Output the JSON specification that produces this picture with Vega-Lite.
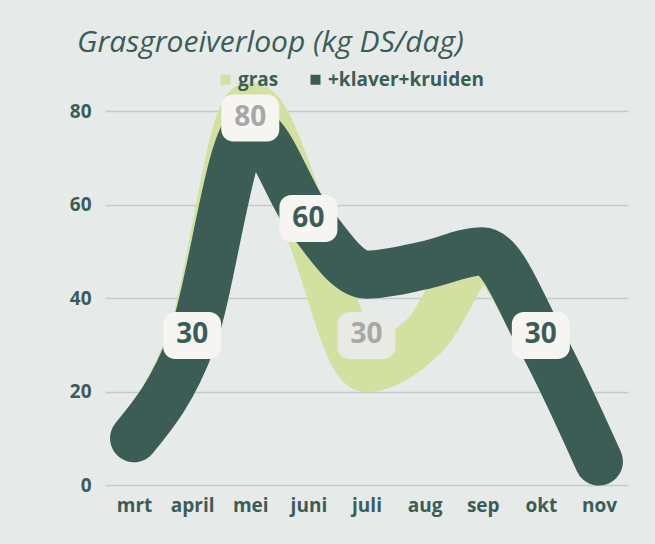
{
  "$schema": "https://vega.github.io/schema/vega-lite/v6.json",
  "autosize": {"type": "none"},
  "width": 523,
  "height": 374,
  "padding": {"left": 105, "top": 111, "right": 27, "bottom": 59},
  "background": "#e6ebe9",
  "config": {"view": {"stroke": null}},
  "title": {
    "text": "Grasgroeiverloop (kg DS/dag)",
    "anchor": "start",
    "frame": "group",
    "dx": -28,
    "offset": 12,
    "font": "Open Sans",
    "fontStyle": "italic",
    "fontWeight": "normal",
    "fontSize": 30,
    "color": "#3b5d56"
  },
  "datasets": {
    "lijnen": [
      {"maand": "mrt", "soort": "gras", "waarde": 10},
      {"maand": "april", "soort": "gras", "waarde": 32},
      {"maand": "mei", "soort": "gras", "waarde": 81},
      {"maand": "juni", "soort": "gras", "waarde": 55},
      {"maand": "juli", "soort": "gras", "waarde": 25},
      {"maand": "aug", "soort": "gras", "waarde": 32},
      {"maand": "sep", "soort": "gras", "waarde": 49},
      {"maand": "okt", "soort": "gras", "waarde": 31},
      {"maand": "nov", "soort": "gras", "waarde": 5},
      {"maand": "mrt", "soort": "+klaver+kruiden", "waarde": 10},
      {"maand": "april", "soort": "+klaver+kruiden", "waarde": 31},
      {"maand": "mei", "soort": "+klaver+kruiden", "waarde": 76},
      {"maand": "juni", "soort": "+klaver+kruiden", "waarde": 57},
      {"maand": "juli", "soort": "+klaver+kruiden", "waarde": 45},
      {"maand": "aug", "soort": "+klaver+kruiden", "waarde": 47},
      {"maand": "sep", "soort": "+klaver+kruiden", "waarde": 50},
      {"maand": "okt", "soort": "+klaver+kruiden", "waarde": 31},
      {"maand": "nov", "soort": "+klaver+kruiden", "waarde": 5}
    ],
    "labels": [
      {"maand": "april", "soort": "+klaver+kruiden", "pos": 32, "label": "30"},
      {"maand": "mei", "soort": "gras", "pos": 78.5, "label": "80"},
      {"maand": "juni", "soort": "+klaver+kruiden", "pos": 57, "label": "60"},
      {"maand": "juli", "soort": "gras", "pos": 32, "label": "30"},
      {"maand": "okt", "soort": "+klaver+kruiden", "pos": 32, "label": "30"}
    ]
  },
  "encoding": {
    "x": {
      "field": "maand",
      "type": "ordinal",
      "sort": ["mrt", "april", "mei", "juni", "juli", "aug", "sep", "okt", "nov"],
      "scale": {"type": "point", "padding": 0.5},
      "axis": {
        "title": null,
        "domain": false,
        "ticks": false,
        "grid": false,
        "labelAngle": 0,
        "labelPadding": 11,
        "labelFont": "Open Sans",
        "labelFontWeight": "bold",
        "labelFontSize": 19,
        "labelColor": "#3b5d56"
      }
    }
  },
  "layer": [
    {
      "data": {"name": "lijnen"},
      "transform": [{"filter": "datum.soort === 'gras'"}],
      "mark": {"type": "line", "strokeWidth": 48, "strokeCap": "round", "strokeJoin": "round", "interpolate": "monotone"},
      "encoding": {
        "y": {
          "field": "waarde",
          "type": "quantitative",
          "scale": {"domain": [0, 80], "nice": false},
          "axis": {
            "title": null,
            "values": [0, 20, 40, 60, 80],
            "domain": false,
            "ticks": false,
            "grid": true,
            "gridColor": "#c4cbc9",
            "gridWidth": 1.5,
            "labelPadding": 14,
            "labelFont": "Open Sans",
            "labelFontWeight": "bold",
            "labelFontSize": 19,
            "labelColor": "#3b5d56"
          }
        },
        "color": {
          "field": "soort",
          "type": "nominal",
          "scale": {"domain": ["gras", "+klaver+kruiden"], "range": ["#d3e1a0", "#3b5d56"]},
          "legend": {
            "title": null,
            "orient": "none",
            "legendX": 111,
            "legendY": -41,
            "direction": "horizontal",
            "padding": 0,
            "symbolType": "square",
            "symbolSize": 4,
            "symbolStrokeWidth": 8,
            "labelFont": "Open Sans",
            "labelFontWeight": "bold",
            "labelFontSize": 19,
            "labelColor": "#3b5d56",
            "labelOffset": 3,
            "columnPadding": 19
          }
        }
      }
    },
    {
      "data": {"name": "lijnen"},
      "transform": [{"filter": "datum.soort !== 'gras'"}],
      "mark": {"type": "line", "strokeWidth": 48, "strokeCap": "round", "strokeJoin": "round", "interpolate": "monotone"},
      "encoding": {
        "y": {"field": "waarde", "type": "quantitative"},
        "color": {"field": "soort", "type": "nominal"}
      }
    },
    {
      "data": {"name": "labels"},
      "mark": {"type": "rect", "width": 58, "height": 47, "cornerRadius": 12},
      "encoding": {
        "y": {"field": "pos", "type": "quantitative"},
        "fill": {
          "condition": {"test": "datum.maand === 'juli'", "value": "#e9e9e6"},
          "value": "#f6f5f2"
        }
      }
    },
    {
      "data": {"name": "labels"},
      "mark": {"type": "text", "font": "Open Sans", "fontWeight": "bold", "fontSize": 28, "baseline": "middle", "align": "center"},
      "encoding": {
        "y": {"field": "pos", "type": "quantitative"},
        "text": {"field": "label"},
        "color": {
          "condition": {"test": "datum.soort === 'gras'", "value": "#a7a7a7"},
          "value": "#3b5d56"
        }
      }
    }
  ]
}
